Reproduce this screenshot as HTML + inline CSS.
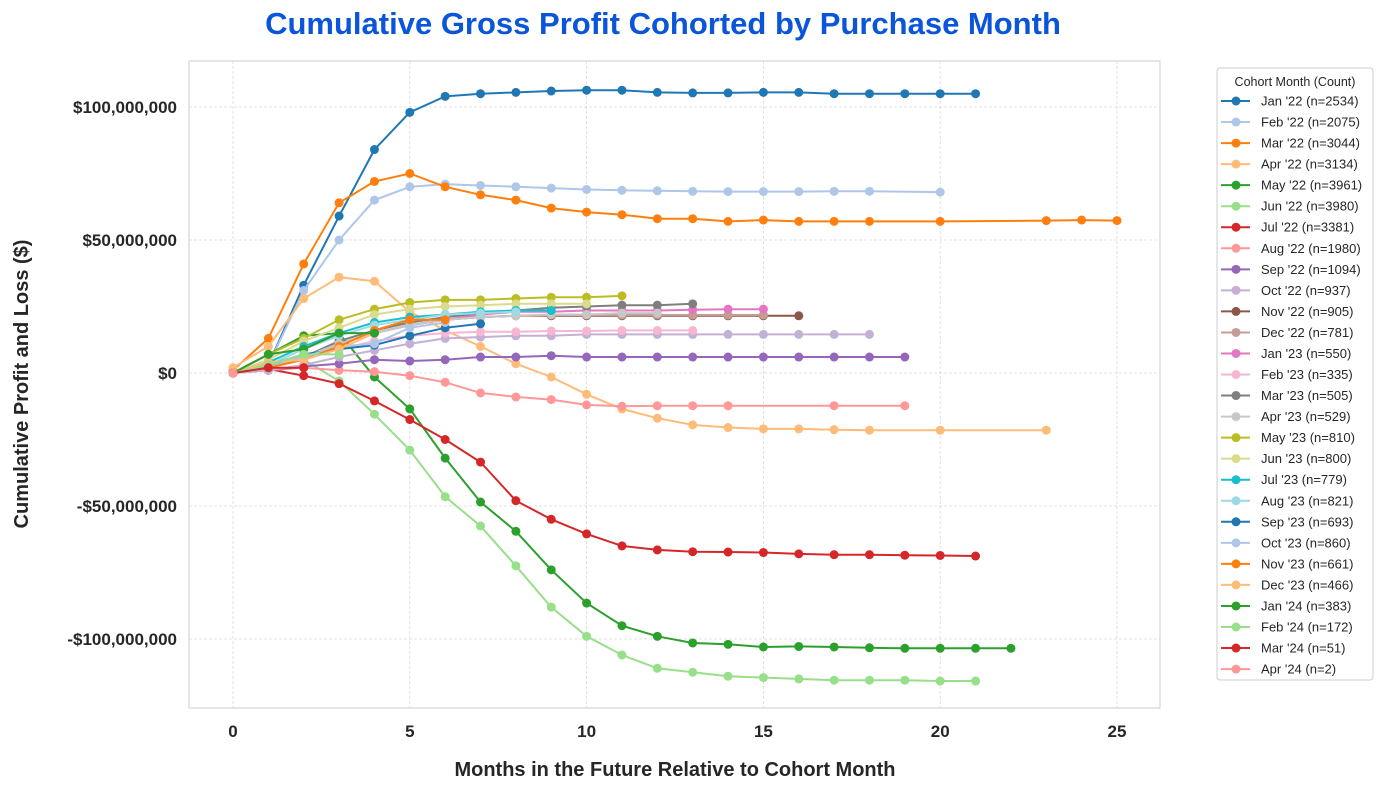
<!DOCTYPE html>
<html><head><meta charset="utf-8"><style>
body{margin:0;background:#fff;font-family:"Liberation Sans",Arial,sans-serif;}
svg text{font-family:"Liberation Sans",Arial,sans-serif;}
</style></head><body>
<svg id="chart" width="1384" height="789" xmlns="http://www.w3.org/2000/svg">
<text x="663" y="34" text-anchor="middle" font-size="31" font-weight="bold" fill="#0a55d9">Cumulative Gross Profit Cohorted by Purchase Month</text>
<text x="675" y="776" text-anchor="middle" font-size="20" font-weight="bold" fill="#262626">Months in the Future Relative to Cohort Month</text>
<text transform="translate(28,384) rotate(-90)" text-anchor="middle" font-size="20" font-weight="bold" fill="#262626">Cumulative Profit and Loss ($)</text>
<g id="grid"></g><g id="series"></g><g id="legend"></g>
</svg>
<script>
const cohortLabels=["Jan '22 (n=2534)","Feb '22 (n=2075)","Mar '22 (n=3044)","Apr '22 (n=3134)","May '22 (n=3961)","Jun '22 (n=3980)","Jul '22 (n=3381)","Aug '22 (n=1980)","Sep '22 (n=1094)","Oct '22 (n=937)","Nov '22 (n=905)","Dec '22 (n=781)","Jan '23 (n=550)","Feb '23 (n=335)","Mar '23 (n=505)","Apr '23 (n=529)","May '23 (n=810)","Jun '23 (n=800)","Jul '23 (n=779)","Aug '23 (n=821)","Sep '23 (n=693)","Oct '23 (n=860)","Nov '23 (n=661)","Dec '23 (n=466)","Jan '24 (n=383)","Feb '24 (n=172)","Mar '24 (n=51)","Apr '24 (n=2)"];
const seriesColors=["#1f77b4","#aec7e8","#ff7f0e","#ffbb78","#2ca02c","#98df8a","#d62728","#ff9896","#9467bd","#c5b0d5","#8c564b","#c49c94","#e377c2","#f7b6d2","#7f7f7f","#c7c7c7","#bcbd22","#dbdb8d","#17becf","#9edae5","#1f77b4","#aec7e8","#ff7f0e","#ffbb78","#2ca02c","#98df8a","#d62728","#ff9896"];
const seriesMonths=[
[0,1,2,3,4,5,6,7,8,9,10,11,12,13,14,15,16,17,18,19,20,21],
[0,1,2,3,4,5,6,7,8,9,10,11,12,13,14,15,16,17,18,20],
[0,1,2,3,4,5,6,7,8,9,10,11,12,13,14,15,16,17,18,20,23,24,25],
[0,1,2,3,4,5,6,7,8,9,10,11,12,13,14,15,16,17,18,20,23],
[0,1,2,3,4,5,6,7,8,9,10,11,12,13,14,15,16,17,18,19,20,21,22],
[0,1,2,3,4,5,6,7,8,9,10,11,12,13,14,15,16,17,18,19,20,21],
[0,1,2,3,4,5,6,7,8,9,10,11,12,13,14,15,16,17,18,19,20,21],
[0,1,2,3,4,5,6,7,8,9,10,11,12,13,14,17,19],
[0,1,2,3,4,5,6,7,8,9,10,11,12,13,14,15,16,17,18,19],
[0,1,2,3,4,5,6,7,8,9,10,11,12,13,14,15,16,17,18],
[0,1,2,3,4,5,6,7,8,9,10,11,12,13,14,15,16],
[0,1,2,3,4,5,6,7,8,9,10,11,12,13,14,15],
[0,1,2,3,4,5,6,7,8,9,10,11,12,13,14,15],
[0,1,2,3,4,5,6,7,8,9,10,11,12,13],
[0,1,2,3,4,5,6,7,8,9,10,11,12,13],
[0,1,2,3,4,5,6,7,8,9,10,11,12],
[0,1,2,3,4,5,6,7,8,9,10,11],
[0,1,2,3,4,5,6,7,8,9,10],
[0,1,2,3,4,5,6,7,8,9],
[0,1,2,3,4,5,6,7,8],
[0,1,2,3,4,5,6,7],
[0,1,2,3,4,5,6],
[0,1,2,3,4,5,6],
[0,1,2,3,4],
[0,1,2,3,4],
[0,1,2,3],
[0,1,2],
[0]];
const seriesValues=[
[0,3,33,59,84,98,104,105,105.5,106,106.3,106.3,105.5,105.3,105.3,105.5,105.5,105,105,105,105,105],
[0,3,31,50,65,70,71,70.5,70,69.5,69,68.7,68.5,68.3,68.2,68.2,68.2,68.3,68.3,68],
[1,13,41,64,72,75,70,67,65,62,60.5,59.5,58,58,57,57.5,57,57,57,57,57.3,57.5,57.3],
[2,10,28,36,34.5,23,16,10,3.5,-1.5,-8,-13.5,-17,-19.5,-20.5,-21,-21,-21.3,-21.5,-21.5,-21.5],
[0,7,14,15,-1.5,-13.5,-32,-48.5,-59.5,-74,-86.5,-95,-99,-101.5,-102,-103,-102.8,-103,-103.3,-103.5,-103.5,-103.5,-103.5],
[0,3,5,-3,-15.5,-29,-46.5,-57.5,-72.5,-88,-99,-106,-111,-112.5,-114,-114.5,-115,-115.5,-115.5,-115.5,-115.8,-115.8],
[0,1.5,-1,-4,-10.5,-17.5,-25,-33.5,-48,-55,-60.5,-65,-66.5,-67.2,-67.3,-67.5,-68,-68.3,-68.3,-68.5,-68.6,-68.8],
[0,1,2,1,0.5,-1,-3.5,-7.5,-9,-10,-12,-12.5,-12.3,-12.3,-12.3,-12.3,-12.3],
[0,1,2.5,3.5,5,4.5,5,6,6,6.5,6,6,6,6,6,6,6,6,6,6],
[0,1,3,6,8.5,11,13,13.5,14,14,14.5,14.5,14.5,14.5,14.5,14.5,14.5,14.5,14.5],
[0,2,6,11,15,18,20,21,21.5,21.5,21.5,21.5,21.5,21.5,21.5,21.5,21.5],
[0,2,6,11,15,18,20,21,21.5,21.8,21.8,21.8,21.8,21.8,21.8,21.8],
[0,2,6,11,15,18,20,22,23,23,23.5,23.5,23.5,23.8,24,24],
[0,2,5,9,12,14,15,15.5,15.5,15.8,15.8,16,16,16],
[0,2,6,12,16,19,21,22.5,23.5,24.5,25,25.5,25.5,26],
[0,2,6,11,15,18,20,21,21.5,22,22,22.5,22.5],
[0,7,13,20,24,26.5,27.5,27.5,28,28.5,28.5,29],
[0,5,12,17,22,24,25,25.5,26,26,26],
[0,4,10,15,19,21,22,23,23.5,23.5],
[0,3,9,14,18,20,22,22.5,23],
[0,3,7,9,10.5,14,17,18.5],
[0,2,6,10,11,17,19],
[0,2,5,10,16,20,20],
[0,4,5,9,15],
[0,7,9,15,15],
[0,3,7,7],
[0,2,2],
[0]];
const yTicks=[100,50,0,-50,-100];
const yTickLabels=["$100,000,000","$50,000,000","$0","-$50,000,000","-$100,000,000"];
const xTicks=[0,5,10,15,20,25];

const NS="http://www.w3.org/2000/svg";
const L=189,R=1160,T=61,B=708;
const xs=m=>233+m*(1117-233)/25;
const ys=v=>373-v*(373-107)/100;
function mk(tag,attrs,parent){const e=document.createElementNS(NS,tag);for(const k in attrs)e.setAttribute(k,attrs[k]);parent.appendChild(e);return e;}
const grid=document.getElementById('grid');
const frame=mk('rect',{x:L,y:T,width:R-L,height:B-T,fill:'#fff',stroke:'#ccc','stroke-width':1},grid);


yTicks.forEach((v,i)=>{
 const g=mk('line',{x1:L,x2:R,y1:ys(v),y2:ys(v),stroke:'#dadada','stroke-width':0.8,'stroke-dasharray':'3,2'},grid);
 
 
 const t=mk('text',{x:L-12,y:ys(v)+6,'text-anchor':'end','font-size':17,'font-weight':'bold',fill:'#262626'},grid);
 t.textContent=yTickLabels[i];
 
 
});
xTicks.forEach(m=>{
 const g=mk('line',{x1:xs(m),x2:xs(m),y1:T,y2:B,stroke:'#dadada','stroke-width':0.8,'stroke-dasharray':'3,2'},grid);
 
 
 const t=mk('text',{x:xs(m),y:B+29,'text-anchor':'middle','font-size':17,'font-weight':'bold',fill:'#262626'},grid);
 t.textContent=m;
 
 
});
const sg=document.getElementById('series');
seriesValues.forEach((vals,i)=>{
 const g=mk('g',{},sg);
 
 
 const ms=seriesMonths[i];
 const pts=vals.map((v,j)=>xs(ms[j]).toFixed(1)+','+ys(v).toFixed(1)).join(' ');
 const pl=mk('polyline',{points:pts,fill:'none',stroke:seriesColors[i],'stroke-width':2},g);
 
 
 vals.forEach((v,j)=>{
  const c=mk('circle',{cx:xs(ms[j]),cy:ys(v),r:4.5,fill:seriesColors[i]},g);
  
  
 });
});
const lg=document.getElementById('legend');
const box=mk('rect',{x:1217,y:68,width:156,height:612,rx:3,fill:'#fff',stroke:'#ccc','stroke-width':1},lg);


const lt=mk('text',{x:1295,y:86,'text-anchor':'middle','font-size':12.5,fill:'#262626'},lg);
lt.textContent='Cohort Month (Count)';


cohortLabels.forEach((lab,i)=>{
 const y=101+i*21.04;
 const g=mk('g',{},lg);
 
 
 mk('line',{x1:1221,x2:1250,y1:y,y2:y,stroke:seriesColors[i],'stroke-width':2},g);
 mk('circle',{cx:1236,cy:y,r:4.5,fill:seriesColors[i]},g);
 const t=mk('text',{x:1261,y:y+4.5,'font-size':13,fill:'#262626'},g);
 t.textContent=lab;
});
</script>
</body></html>
